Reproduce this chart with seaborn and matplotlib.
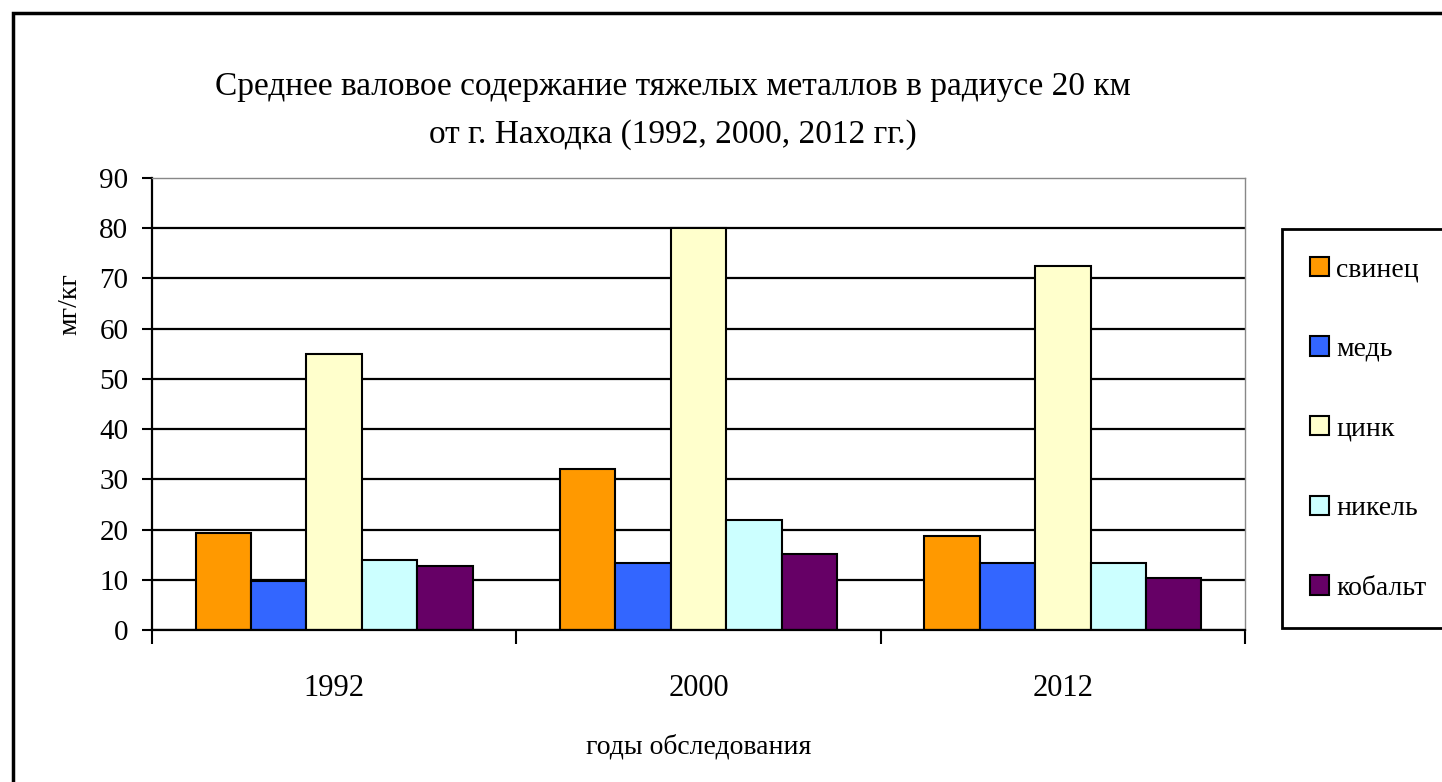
import pandas as pd
import matplotlib
matplotlib.use("Agg")
import matplotlib.pyplot as plt
import matplotlib.patches as mpatches
import seaborn as sns

# values, mg/kg
years = ["1992", "2000", "2012"]
metals = ["свинец", "медь", "цинк", "никель", "кобальт"]
lead = [19.3, 32.0, 18.7]
copper = [9.7, 13.3, 13.3]
zinc = [55.0, 80.0, 72.4]
nickel = [13.9, 21.9, 13.3]
cobalt = [12.7, 15.2, 10.3]
colors = ["#FF9900", "#3366FF", "#FFFFCC", "#CCFFFF", "#660066"]

rows = []
for metal, vals in zip(metals, [lead, copper, zinc, nickel, cobalt]):
    for yr, v in zip(years, vals):
        rows.append({"year": yr, "metal": metal, "value": v})
df = pd.DataFrame(rows)

sns.set_style("white")
plt.rcParams["font.family"] = ["Liberation Serif", "DejaVu Serif"]
plt.rcParams["text.color"] = "black"
plt.rcParams["axes.labelcolor"] = "black"
plt.rcParams["xtick.color"] = "black"
plt.rcParams["ytick.color"] = "black"

fig = plt.figure(figsize=(14.42, 7.82), dpi=100)
ax = fig.add_axes([152 / 1442, 152 / 782, 1093 / 1442, 452 / 782])

sns.barplot(data=df, x="year", y="value", hue="metal", order=years,
            hue_order=metals, palette=colors, width=0.76, gap=0,
            edgecolor="black", linewidth=1.5, saturation=1, ax=ax)

ax.set_ylim(0, 90)
ax.set_xlim(-0.5, 2.5)
ax.set_yticks(range(0, 91, 10))
ax.set_axisbelow(True)
ax.yaxis.grid(True, color="black", linewidth=1.6)
ax.get_yaxis().get_major_ticks()[-1].gridline.set_visible(False)

for side in ["top", "right"]:
    ax.spines[side].set_color("#888888")
    ax.spines[side].set_linewidth(1.0)
for side in ["left", "bottom"]:
    ax.spines[side].set_color("black")
    ax.spines[side].set_linewidth(1.6)

ax.tick_params(axis="y", length=7, width=1.5, color="black", pad=10,
               labelsize=21, left=True, labelcolor="black")
ax.set_xticks([-0.5, 0.5, 1.5, 2.5], minor=True)
ax.tick_params(axis="x", which="minor", length=10, width=1.5,
               color="black", bottom=True)
ax.tick_params(axis="x", which="major", length=0, pad=32, labelsize=22,
               labelcolor="black")

ax.set_xlabel("годы обследования", fontsize=20, labelpad=22)
ax.set_ylabel("мг/кг", fontsize=20)
ax.yaxis.set_label_coords(-0.064, 0.72)

fig.text(673 / 1442, 1 - 72 / 782,
         "Среднее валовое содержание тяжелых металлов в радиусе 20 км\n"
         "от г. Находка (1992, 2000, 2012 гг.)",
         ha="center", va="top", fontsize=24, linespacing=1.7)

leg = ax.legend(loc="upper left", bbox_to_anchor=(1282 / 1442, 1 - 229 / 782, 0.2, 0.0),
                bbox_transform=fig.transFigure, mode="expand", borderaxespad=0,
                fontsize=20, labelspacing=1.95, borderpad=1.0,
                handlelength=0.7, handleheight=0.7, handletextpad=0.25,
                frameon=True, fancybox=False, framealpha=1)
leg.get_frame().set_edgecolor("black")
leg.get_frame().set_linewidth(2)

# outer border of the chart area
fig.patches.append(mpatches.Rectangle((13 / 1442, -0.1), 2, 1 - 13 / 782 + 0.1,
                                      transform=fig.transFigure, fill=False,
                                      edgecolor="black", linewidth=2.5))

fig.savefig("out.png", dpi=100)
